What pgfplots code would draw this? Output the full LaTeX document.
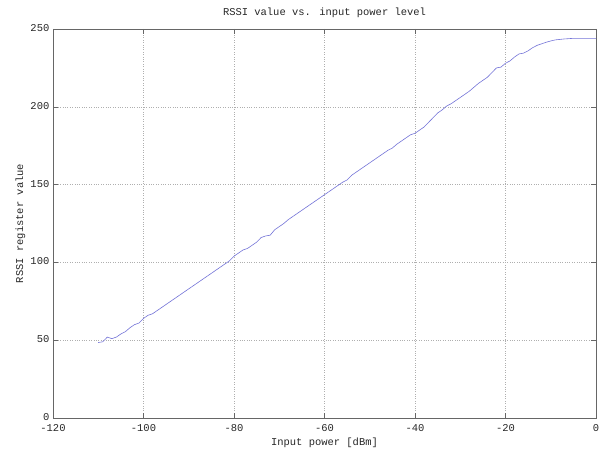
\documentclass[border=0pt]{standalone}
\usepackage{pgfplots}
\pgfplotsset{compat=1.18}
\usepackage{fontspec}
\setmainfont{Liberation Mono}
\definecolor{rssiline}{RGB}{115,115,215}
\definecolor{gridgray}{RGB}{175,175,175}

\begin{document}
\begin{tikzpicture}
\fontsize{10.5}{12}\selectfont
\begin{axis}[
	name=ax,
	scale only axis,
	width=543bp, height=389bp,
	xmin=-120, xmax=0,
	ymin=0, ymax=250,
	xtick={-120,-100,-80,-60,-40,-20,0},
	xticklabels={-120,-100,-80,-60,-40,-20,0},
	ytick={0,50,100,150,200,250},
	yticklabels={0,50,100,150,200,250},
	tick align=inside,
	major tick length=5bp,
	grid=major,
	major grid style={gridgray, dotted, line width=0.5pt},
	axis line style={black!60, line width=0.5pt},
	tick style={black!60, line width=0.5pt},
	ticklabel style={font=\fontsize{10.5}{12}\selectfont, text=black!85},
	xticklabel style={yshift=-3bp},
	yticklabel style={yshift=1bp},
	title={RSSI value vs. input power level},
	title style={font=\fontsize{10.5}{12}\selectfont, text=black!85, yshift=2bp},
	xlabel={Input power [dBm]},
	ylabel={RSSI register value},
	label style={font=\fontsize{10.5}{12}\selectfont, text=black!85},
	xlabel style={yshift=1bp},
	ylabel style={yshift=-2bp},
	]
\addplot[rssiline, line width=0.6pt] table {
x y
-110 48.5
-109 49
-108 52
-107 51
-106 52
-105 54
-104 55.5
-103 58
-102 60
-101 61
-100 64
-99 66
-98 67
-97 69
-96 71
-95 73
-94 75
-93 77
-92 79
-91 81
-90 83
-89 85
-88 87
-87 89
-86 91
-85 93
-84 95
-83 97
-82 99
-81 101
-80 104
-79 106
-78 108
-77 109
-76 111
-75 113
-74 116
-73 117
-72 117.5
-71 121
-70 123
-69 125
-68 127.5
-67 129.5
-66 131.5
-65 133.5
-64 135.5
-63 137.5
-62 139.5
-61 141.5
-60 143.5
-59 145.5
-58 147.5
-57 149.5
-56 151.5
-55 153
-54 156
-53 158
-52 160
-51 162
-50 164
-49 166
-48 168
-47 170
-46 172
-45 173.5
-44 176
-43 178
-42 180
-41 182
-40 183
-39 185
-38 187
-37 190
-36 193
-35 196
-34 198
-33 200.5
-32 202
-31 204
-30 206
-29 208
-28 210
-27 212.5
-26 215
-25 217
-24 219
-23 222
-22 225
-21 225.5
-20 228
-19 229.5
-18 232
-17 234
-16 234.5
-15 236
-14 238
-13 239.5
-12 240.5
-11 241.5
-10 242.3
-9 243
-8 243.3
-7 243.6
-6 243.8
-5 244
-4 244
-3 244
-2 244
-1 244
0 244
};
\end{axis}
\pgfresetboundingbox
\path ([shift={(-53bp,-34bp)}]ax.south west) rectangle ([shift={(6bp,29bp)}]ax.north east);
\end{tikzpicture}
\end{document}
